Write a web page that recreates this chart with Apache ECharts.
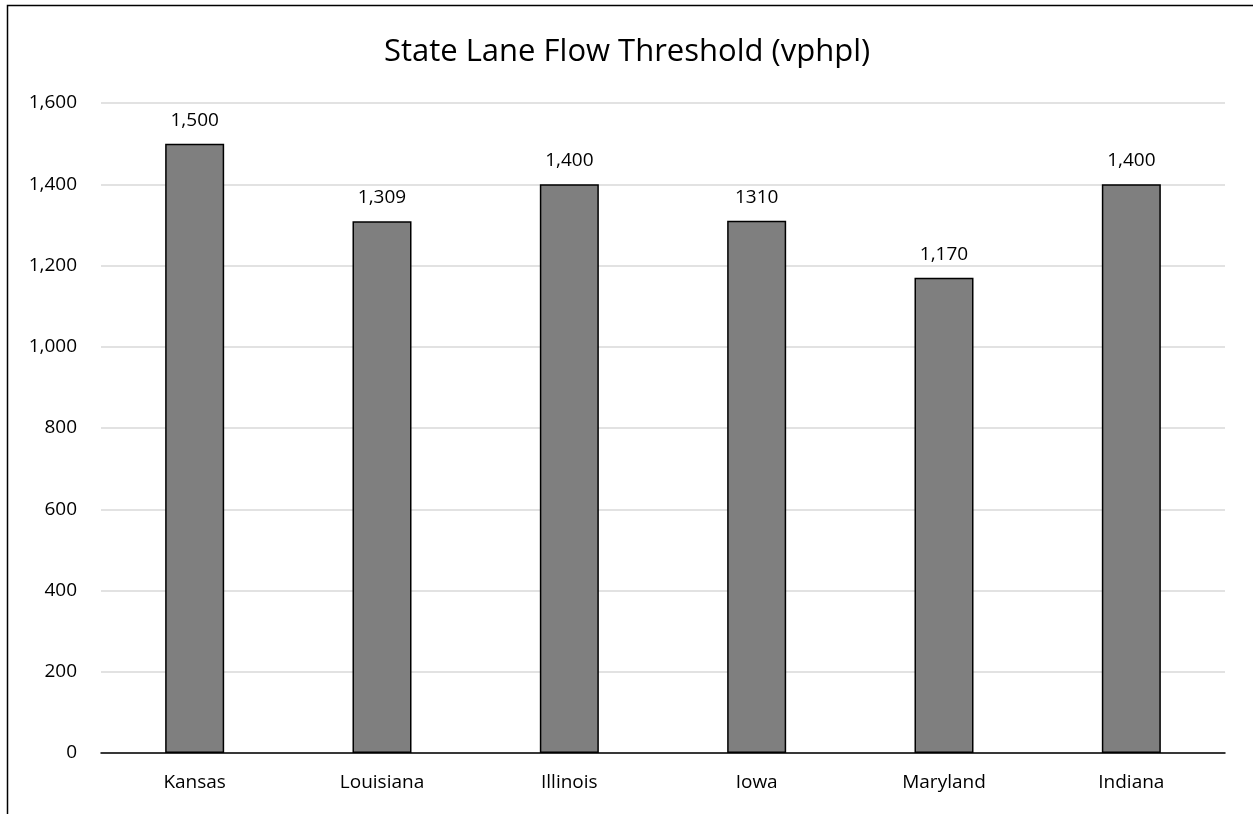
<!DOCTYPE html>
<html>
<head>
<meta charset="utf-8">
<script src="https://cdn.jsdelivr.net/npm/echarts@6/dist/echarts.min.js"></script>
<style>
  html, body { margin: 0; padding: 0; background: #ffffff; }
  #chart { width: 1253px; height: 814px; }
</style>
</head>
<body>
<div id="chart"></div>
<script>
// Lane flow thresholds by state (vehicles per hour per lane)
const states = ['Kansas', 'Louisiana', 'Illinois', 'Iowa', 'Maryland', 'Indiana'];
const thresholds = [1500, 1309, 1400, 1310, 1170, 1400];
const valueLabels = ['1,500', '1,309', '1,400', '1310', '1,170', '1,400'];
const yTicks = [0, 200, 400, 600, 800, 1000, 1200, 1400, 1600];

const FONT = '"Open Sans", "Noto Sans", sans-serif';

const chart = echarts.init(document.getElementById('chart'), null, { renderer: 'canvas' });

chart.setOption({
  animation: false,
  backgroundColor: '#ffffff',
  title: {
    text: 'State Lane Flow Threshold (vphpl)',
    left: 622,
    textAlign: 'center',
    top: 32,
    textStyle: { fontFamily: FONT, fontSize: 31, fontWeight: 'normal', color: '#000000' }
  },
  graphic: [{
    type: 'rect',
    shape: { x: 7.5, y: 5.5, width: 1300, height: 900 },
    style: { fill: 'none', stroke: '#000000', lineWidth: 1.5 },
    silent: true
  }],
  grid: { left: 101, right: 28, top: 103, bottom: 61, containLabel: false },
  xAxis: {
    type: 'category',
    data: states,
    axisLine: { lineStyle: { color: '#000000', width: 1.5 } },
    axisTick: { show: false },
    axisLabel: { fontFamily: FONT, fontSize: 19, color: '#000000', margin: 20 }
  },
  yAxis: {
    type: 'value',
    min: yTicks[0],
    max: yTicks[yTicks.length - 1],
    interval: yTicks[1] - yTicks[0],
    axisLine: { show: false },
    axisTick: { show: false },
    splitLine: { lineStyle: { color: '#d9d9d9', width: 1.5 } },
    axisLabel: {
      fontFamily: FONT, fontSize: 19, color: '#000000', margin: 24,
      formatter: v => v.toLocaleString('en-US')
    }
  },
  series: [{
    type: 'bar',
    data: thresholds,
    barWidth: '31.5%',
    itemStyle: { color: '#7f7f7f', borderColor: '#000000', borderWidth: 1.5 },
    label: {
      show: true,
      position: 'top',
      distance: 14,
      fontFamily: FONT,
      fontSize: 19,
      color: '#000000',
      formatter: p => valueLabels[p.dataIndex]
    }
  }]
});
</script>
</body>
</html>
